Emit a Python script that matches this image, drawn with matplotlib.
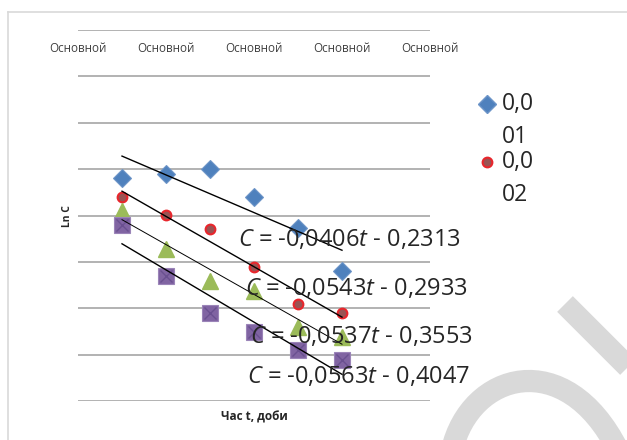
import numpy as np
import matplotlib.pyplot as plt
from matplotlib.lines import Line2D
from matplotlib.path import Path
from matplotlib.patches import PathPatch

plt.rcParams['font.family'] = ['Open Sans', 'DejaVu Sans']
plt.rcParams['mathtext.fontset'] = 'custom'
plt.rcParams['mathtext.rm'] = 'Open Sans'
plt.rcParams['mathtext.it'] = 'Open Sans:italic'

# Дані
t = [1, 2, 3, 4, 5, 6]
s1 = [-0.320, -0.310, -0.300, -0.360, -0.428, -0.520]
s2 = [-0.360, -0.400, -0.430, -0.510, -0.590, -0.610]
s3 = [-0.390, -0.472, -0.541, -0.563, -0.641, -0.662]
s4 = [-0.421, -0.531, -0.611, -0.652, -0.691, -0.711]
slopes = [-0.0406, -0.0543, -0.0537, -0.0563]
intercepts = [-0.2313, -0.2933, -0.3553, -0.4047]
equations = ['-0,0406$t$ - 0,2313', '-0,0543$t$ - 0,2933',
             '-0,0537$t$ - 0,3553', '-0,0563$t$ - 0,4047']
xtick_pos = [0, 2, 4, 6, 8]
legend_labels = [('0,0', '01'), ('0,0', '02')]

W, H = 627, 440
fig = plt.figure(figsize=(6.27, 4.4), dpi=100)

# фон: рамка і сіра "вотермарка"
bg = fig.add_axes([0, 0, 1, 1], zorder=0)
bg.set_xlim(0, W)
bg.set_ylim(H, 0)
bg.axis('off')
bg.plot([8, W], [12, 12], color='#d9d9d9', lw=1.2)
bg.plot([8, 8], [12, H], color='#d9d9d9', lw=1.2)
bg.plot([565, 650], [304, 389], color='#d9d9d9', lw=16, solid_capstyle='butt')
arc = Path([(452, 450), (470, 372), (565, 345), (618, 450)],
           [Path.MOVETO, Path.CURVE4, Path.CURVE4, Path.CURVE4])
bg.add_patch(PathPatch(arc, facecolor='none', edgecolor='#d9d9d9', lw=16))

ax = fig.add_axes([78 / W, 1 - 401 / H, 352 / W, 371 / H], zorder=1)
ax.patch.set_alpha(0)
ax.set_xlim(0, 8)
ax.set_ylim(-0.8, 0)
ax.set_yticks(np.arange(-0.8, 0.01, 0.1))
ax.set_xticks([])
ax.tick_params(left=False, labelleft=False)
ax.grid(axis='y', color='#a6a6a6', lw=1.2)
for sp in ax.spines.values():
    sp.set_visible(False)

ax.plot(t, s1, 'D', ms=9, color='#4f81bd', mec='#6d95c8', mew=0.8, zorder=3)
ax.plot(t, s2, 'o', ms=7, color='#9a5353', mec='#e8262c', mew=1.5, zorder=3)
ax.plot(t, s3, '^', ms=11.5, color='#9bbb59', mec='#9bbb59', zorder=3)
ax.plot(t, s4, 's', ms=11.5, color='#8064a2', mec='#9b84b8', mew=0.8, zorder=3)
ax.plot(t, s4, 'x', ms=9, color='#6a5090', mew=1.0, zorder=3)

tt = np.array([t[0], t[-1]])
for k, (a, b) in enumerate(zip(slopes, intercepts)):
    ax.plot(tt, a * tt + b, color='black', lw=1.0 if k != 2 else 0.7, zorder=4)

for x in xtick_pos:
    ax.text(x, -0.039, 'Основной', ha='center', va='center', fontsize=8.4,
            color='#404040', clip_on=False)

fig.text(67 / W, 1 - 216 / H, 'Ln C', rotation=90, fontsize=7.5,
         fontweight='bold', ha='center', va='center', color='#262626')
fig.text(254 / W, 1 - 417 / H, 'Час t, доби', fontsize=8.5,
         fontweight='bold', ha='center', va='center', color='#262626')

eq_xy = [(238, 240), (245, 289), (250, 337), (247, 377)]
for (x, y), eq in zip(eq_xy, equations):
    fig.text(x / W, 1 - y / H, '$C$ = ' + eq, fontsize=17, color='#262626',
             ha='left', va='center', zorder=5)

# легенда
leg_y = [104, 162]
markers = [dict(marker='D', ms=9, color='#4f81bd', mec='#6d95c8'),
           dict(marker='o', ms=7, color='#9a5353', mec='#e8262c', mew=1.5)]
for y, (l1, l2), m in zip(leg_y, legend_labels, markers):
    fig.add_artist(Line2D([487 / W], [1 - y / H], transform=fig.transFigure,
                          linestyle='none', **m))
    fig.text(502 / W, 1 - y / H, l1, fontsize=16.5, color='#262626', va='center')
    fig.text(502 / W, 1 - (y + 33) / H, l2, fontsize=16.5, color='#262626', va='center')

fig.savefig('out.png', dpi=100)
